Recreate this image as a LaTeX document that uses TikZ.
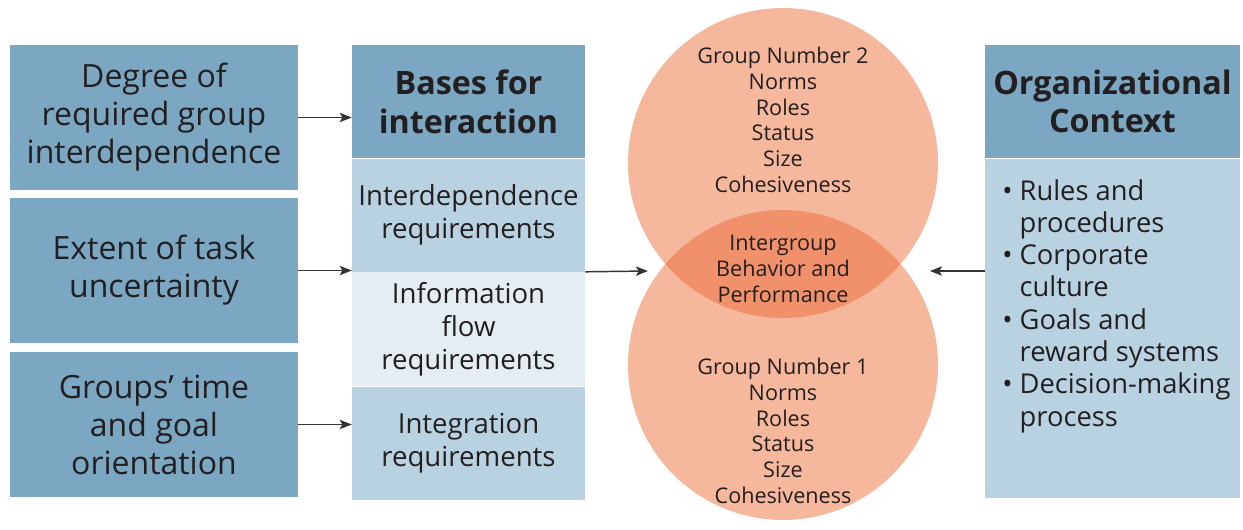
\documentclass[tikz,border=0pt]{standalone}
\usepackage{fontspec}
\setmainfont{Open Sans}
\usepackage{tikz}
\usetikzlibrary{arrows.meta, positioning}
\definecolor{boxblue}{HTML}{7BA7C3}
\definecolor{lightblue}{HTML}{B9D2E2}
\definecolor{paleblue}{HTML}{E4EDF2}
\definecolor{grouporange}{HTML}{F6B89D}
\definecolor{lensorange}{HTML}{F0916B}
\definecolor{txtdark}{HTML}{231F20}
\definecolor{arrowgray}{HTML}{333333}

\begin{document}
\begin{tikzpicture}[x=0.75pt, y=-0.75pt,
    factor/.style={fill=boxblue, text=txtdark, minimum width=216pt, minimum height=108.75pt,
        align=center, inner sep=0pt, font=\fontsize{24}{28.5}\selectfont},
    header/.style={fill=boxblue, text=txtdark, minimum height=84.75pt, align=center,
        inner sep=0pt, font=\fontsize{24.2}{29}\selectfont\bfseries},
    basis/.style={fill=lightblue, text=txtdark, minimum width=174.75pt, minimum height=84.75pt,
        align=center, inner sep=0pt, font=\fontsize{20.7}{24.75}\selectfont},
    group/.style={circle, fill=grouporange, minimum size=232.5pt, inner sep=0pt, outer sep=0pt},
    grouptxt/.style={text=txtdark, align=center, font=\fontsize{16.2}{19.3}\selectfont},
    flow/.style={draw=arrowgray, line width=1.1pt, -{Stealth[length=9pt, width=7pt, inset=2pt]}}]
    \useasboundingbox (0,0) rectangle (1243,529);

    % Left column: what drives the interaction
    \node[factor] (deg) at (154,117.5) {Degree of\\required group\\interdependence};
    \node[factor] (ext) at (154,270.5) {Extent of task\\uncertainty};
    \node[factor] (grp) at (154,424.5) {Groups’ time\\and goal\\orientation};

    % Middle column: bases for interaction
    \node[header, minimum width=174.75pt] (bases) at (468.5,101.5) {Bases for\\interaction};
    \node[basis, below=0pt of bases] (interdep) {Interdependence\\requirements};
    \node[basis, fill=paleblue, minimum height=85.5pt, below=0pt of interdep] (infoflow) {Information\\flow\\requirements};
    \node[basis, below=0pt of infoflow] (integ) {Integration\\requirements};

    % Two groups and their overlap
    \node[group] (g2) at (783,163) {};
    \node[group] (g1) at (783,365) {};
    \begin{scope}
        \clip (g2.center) circle[radius=116.25pt];
        \fill[lensorange] (g1.center) circle[radius=116.25pt];
    \end{scope}
    \node[grouptxt] (g2txt) at (783,120) {Group Number 2\\Norms\\Roles\\Status\\Size\\Cohesiveness};
    \node[grouptxt] (lenstxt) at (783,269) {Intergroup\\Behavior and\\Performance};
    \node[grouptxt] (g1txt) at (783,431) {Group Number 1\\Norms\\Roles\\Status\\Size\\Cohesiveness};
    \coordinate (lensL) at (648,271);
    \coordinate (lensR) at (930,271);

    % Right column: organizational context
    \node[header, minimum width=191.25pt] (ctx) at (1112.5,101.5) {Organizational\\Context};
    \node[basis, minimum width=191.25pt, minimum height=254.25pt, below=0pt of ctx] (ctxbody) {};
    \node[text=txtdark, align=left, anchor=west, inner sep=0pt, font=\fontsize{20.5}{24.2}\selectfont]
        (ctxlist) at (1002,306) {\textbullet\ Rules and\\\phantom{\textbullet\ }procedures\\
        \textbullet\ Corporate\\\phantom{\textbullet\ }culture\\
        \textbullet\ Goals and\\\phantom{\textbullet\ }reward systems\\
        \textbullet\ Decision-making\\\phantom{\textbullet\ }process};

    % Arrows
    \foreach \src in {deg,ext,grp}
        \draw[flow] (\src.east) -- (\src.east -| bases.west);
    \draw[flow] (interdep.south east) -- (lensL);
    \draw[flow] (ctxbody.west |- lensR) -- (lensR);
\end{tikzpicture}
\end{document}
